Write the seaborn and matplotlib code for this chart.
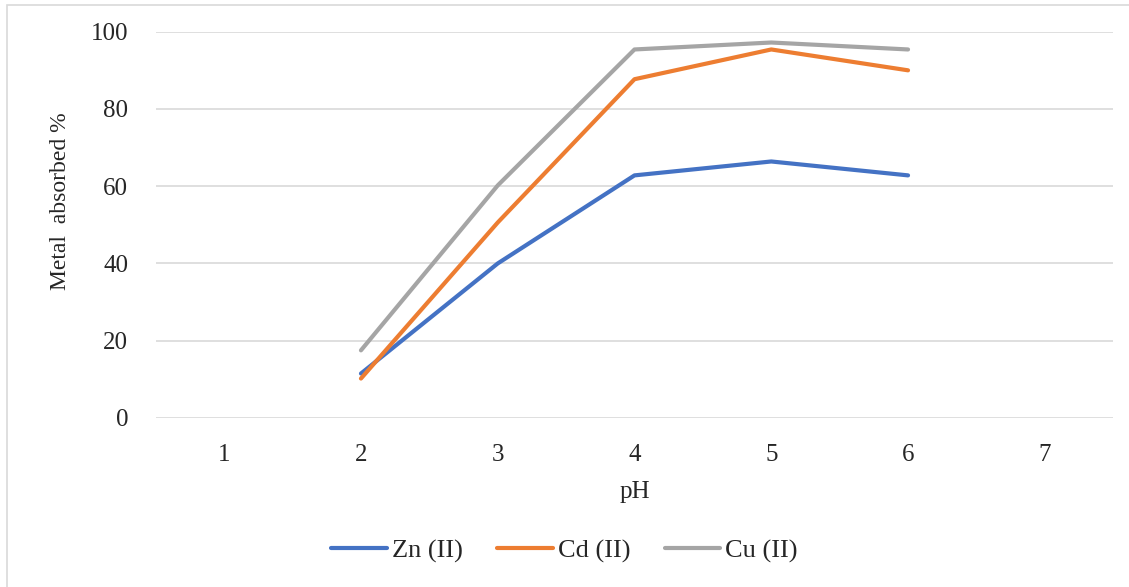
import matplotlib
matplotlib.use("Agg")
import matplotlib.pyplot as plt
import seaborn as sns
import pandas as pd
from matplotlib.patches import Rectangle

ph_categories = [1, 2, 3, 4, 5, 6, 7]
ph_measured = [2, 3, 4, 5, 6]
zn_values = [11.5, 40.0, 62.8, 66.4, 62.8]
cd_values = [10.2, 50.6, 87.7, 95.4, 90.0]
cu_values = [17.5, 60.2, 95.4, 97.2, 95.4]
series_names = ["Zn (II)", "Cd (II)", "Cu (II)"]
y_ticks = [0, 20, 40, 60, 80, 100]

rows = []
for name, vals in zip(series_names, [zn_values, cd_values, cu_values]):
    for x, v in zip(ph_measured, vals):
        rows.append({"pH": x, "value": v, "series": name})
df = pd.DataFrame(rows)

sns.set_theme(style="white")
plt.rcParams["font.family"] = ["Liberation Serif", "DejaVu Serif"]

fig = plt.figure(figsize=(11.29, 5.87), dpi=100)
ax = fig.add_axes([0.138, 0.288, 0.848, 0.658])

palette = {"Zn (II)": "#4472C4", "Cd (II)": "#ED7D31", "Cu (II)": "#A5A5A5"}
sns.lineplot(data=df, x="pH", y="value", hue="series", hue_order=series_names,
             palette=palette, linewidth=3, ax=ax, legend=True, zorder=3)

ax.set_xlim(0.5, 7.5)
ax.set_ylim(0, 100)
ax.set_xticks(ph_categories)
ax.set_xticklabels([str(c) for c in ph_categories])
ax.set_yticks(y_ticks)
ax.yaxis.grid(True, color="#D9D9D9", linewidth=1.2)
ax.xaxis.grid(False)
for s in ax.spines.values():
    s.set_visible(False)
ax.tick_params(axis="both", length=0, colors="#262626")
ax.tick_params(axis="y", pad=20, labelsize=18)
ax.tick_params(axis="x", pad=18.5, labelsize=18)
ax.set_xlabel("pH", fontsize=18, color="#262626", labelpad=11)
ax.set_ylabel("Metal  absorbed %", fontsize=17, color="#262626")
ax.yaxis.set_label_coords(-0.089, 0.562)

handles, labels = ax.get_legend_handles_labels()
ax.legend(handles, labels, loc="center", bbox_to_anchor=(0.427, -0.345),
          ncol=3, frameon=False, fontsize=19, handlelength=2.1,
          handletextpad=0.2, columnspacing=1.3, labelcolor="#262626")

fig.patches.append(Rectangle((0.0065, -0.5), 1.5, 1.491, transform=fig.transFigure,
                             fill=False, edgecolor="#D9D9D9", linewidth=1.2))

fig.savefig("out.png", dpi=100, facecolor="white")
